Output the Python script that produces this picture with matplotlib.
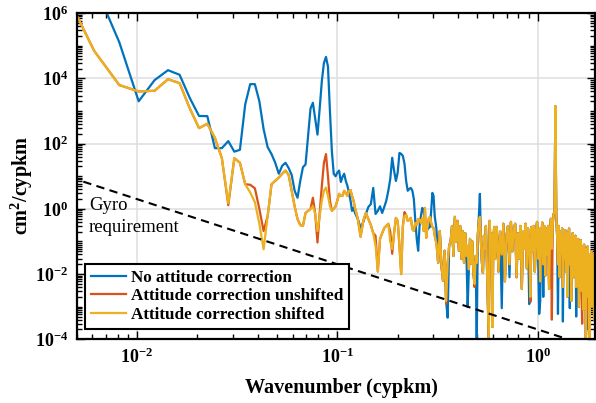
import numpy as np
import matplotlib
matplotlib.use("Agg")
import matplotlib.pyplot as plt
from matplotlib.ticker import FixedLocator, LogLocator, NullFormatter, LogFormatterSciNotation

plt.rcParams.update({
    "font.family": ["Liberation Serif", "DejaVu Serif"],
    "font.weight": "bold",
    "mathtext.fontset": "custom",
    "mathtext.rm": "Liberation Serif:bold",
    "mathtext.it": "Liberation Serif:bold",
    "mathtext.bf": "Liberation Serif:bold",
    "mathtext.default": "rm",
    "axes.unicode_minus": False,
})

# ---- wavenumber grid (cycles per km), spectral resolution 1/490 cypkm ----
DF = 1.0 / 490.0
k_low = np.arange(2, 61)          # every bin
k_mid = np.arange(62, 151, 2)     # every 2nd bin
k_hi1 = np.arange(153, 301, 3)    # every 3rd bin
k_hi2 = np.arange(306, 979, 6)    # every 6th bin
wavenumber = np.concatenate([k_low, k_mid, k_hi1, k_hi2]) * DF

# ---- spectra (cm^2/cypkm) ----
blue_low = [2e7, 8e6, 1.3e5, 2.0e3, 8.9e3, 1.8e4, 1.3e4, 2.5e3, 7.1e2, 7.0e2,
            73, 73, 1.2e2, 57, 65, 1.6e3, 6.7e3, 6.7e3, 2.0e3, 2.8e2,
            78, 48, 26, 12, 21, 26, 18, 11, 3.6, 2.2,
            7.2, 19, 23, 1.7e2, 1.2e3, 1.8e3, 5.8e2, 1.9e2, 1.2e3, 8.4e3,
            3.0e4, 4.6e4, 2.3e4, 1.0e3, 60, 12, 10, 13, 15, 6.7,
            9.6, 12, 7.2, 5.1, 3.1, 1.8, 0.87, 1.07, 0.75]
blue_mid = [0.49, 0.26, 0.40, 0.70, 1.15, 1.4, 4.4, 0.7, 0.87, 1.2,
            0.75, 1.15, 1.8, 3.6, 8.3, 37, 15, 7.2, 13, 52,
            49, 42, 24, 7.2, 3.6, 4.1, 4.4, 3.6, 2.0, 0.43,
            0.12, 0.052, 0.30, 0.61, 1.07, 0.93, 0.30, 0.18, 0.24, 0.26,
            0.28, 0.87, 3.1, 2.5, 0.6]
blue_hi1 = [0.24, 0.022, 0.21, 0.018, 0.0062, 0.052, 0.0015, 4.6e-4, 0.074, 0.10,
            0.30, 0.036, 0.57, 0.10, 0.43, 0.052, 0.30, 0.029, 0.21, 0.022,
            0.18, 0.036, 9.7e-4, 0.014, 0.12, 0.021, 0.10, 0.011, 0.005, 0.036,
            8e-5, 0.15, 0.6, 2.9, 0.10, 0.022, 0.011, 0.15, 0.059, 0.30,
            0.025, 0.0015, 9e-5, 0.43, 0.052, 0.18, 2.4e-4, 0.10, 0.28, 0.029]
blue_hi2 = [0.28, 0.012, 0.2, 9e-4, 0.35, 0.006, 0.15, 0.3, 0.008, 0.4,
            0.05, 0.25, 0.35, 0.008, 0.18, 0.03, 0.3, 0.0035, 0.2, 0.06,
            0.35, 0.015, 0.25, 0.0012, 0.002, 0.28, 0.05, 0.3, 0.012, 0.2,
            0.4, 0.03, 6e-4, 0.0015, 0.15, 0.38, 0.002, 0.3,
            0.009, 0.25, 0.04, 0.3, 0.0035, 0.2, 0.5, 0.06, 0.35, 0.7,
            0.8, 1.4e3, 0.6, 0.15, 6e-4, 0.3, 0.008,
            0.2, 0.05, 0.25, 3.5e-4, 0.15, 0.03, 0.22, 0.012, 0.18, 0.002,
            0.14, 0.25, 9e-4, 0.12, 0.0015, 0.1, 0.18, 0.008, 0.12, 0.03,
            0.15, 5e-4, 0.1, 0.06, 0.12, 0.001, 0.09, 0.02, 0.11, 0.003,
            0.07, 0.05, 0.0008, 0.08, 0.015, 0.06, 8e-5, 0.05, 0.004, 0.07,
            2e-4, 0.04, 9e-5, 0.03, 0.015, 0.05, 0.001, 0.03, 0.006, 0.04,
            0.0004, 0.025, 0.01, 0.035, 0.002, 0.02, 0.0006, 0.015]

yellow_low = [1.1e7, 7e4, 6.3e3, 4.0e3, 4.2e3, 9.5e3, 7.2e3, 1.2e3, 3.0e2, 4.1e2,
              1.5e2, 36, 1.5, 36, 26, 5.7, 3.2, 1.6, 0.35, 0.058,
              0.6, 5.7, 7.2, 9.1, 12, 15, 11, 3.6, 1.2, 0.49,
              0.32, 0.30, 0.75, 0.87, 1.0, 1.2, 0.7, 0.21, 0.6, 1.8,
              3.6, 4.5, 2.5, 1.2, 0.87, 1.0, 1.2, 1.8, 2.9, 2.5,
              2.5, 3.6, 3.1, 2.5, 3.6, 3.8, 2.5, 1.8, 1.07]
yellow_mid = [0.49, 0.14, 0.43, 0.75, 0.49, 0.32, 0.18, 0.074, 0.012, 0.12,
              0.18, 0.26, 0.30, 0.35, 0.10, 0.059, 0.18, 0.53, 0.43, 0.074,
              0.010, 0.30, 0.6, 0.65, 0.43, 0.46, 0.53, 0.24, 0.21, 0.37,
              0.32, 0.49, 0.46, 0.37, 0.53, 0.21, 1.07, 0.13, 0.30, 0.49,
              0.57, 0.37, 0.28, 0.26, 0.15]
yellow_hi1 = [0.085, 0.022, 0.21, 0.018, 0.0062, 0.052, 0.0015, 0.022, 0.074, 0.10,
              0.30, 0.036, 0.57, 0.10, 0.43, 0.052, 0.30, 0.029, 0.21, 0.022,
              0.18, 0.036, 0.074, 0.014, 0.12, 0.021, 0.10, 0.011, 0.005, 0.036,
              0.022, 0.15, 0.43, 0.57, 0.10, 0.022, 0.011, 0.15, 0.059, 0.30,
              0.025, 0.0015, 9e-5, 0.43, 0.052, 0.18, 2.4e-4, 0.10, 0.28, 0.029]
yellow_hi2 = [0.28, 0.012, 0.2, 0.04, 0.35, 0.006, 0.15, 0.3, 0.02, 0.4,
              0.05, 0.25, 0.35, 0.008, 0.18, 0.03, 0.3, 0.0035, 0.2, 0.06,
              0.35, 0.015, 0.25, 0.1, 0.002, 0.28, 0.05, 0.3, 0.012, 0.2,
              0.4, 0.03, 0.25, 0.006, 0.15, 0.38, 0.02, 0.3,
              0.009, 0.25, 0.04, 0.3, 0.0035, 0.2, 0.5, 0.06, 0.35, 0.7,
              0.8, 1.4e3, 0.6, 0.15, 0.02, 0.3, 0.008,
              0.2, 0.05, 0.25, 0.004, 0.15, 0.03, 0.22, 0.012, 0.18, 0.002,
              0.14, 0.25, 0.02, 0.12, 0.0015, 0.1, 0.18, 0.008, 0.12, 0.03,
              0.15, 0.004, 0.1, 0.06, 0.12, 0.001, 0.09, 0.02, 0.11, 0.003,
              0.07, 0.05, 0.0008, 0.08, 0.015, 0.06, 8e-5, 0.05, 0.004, 0.07,
              0.002, 0.04, 9e-5, 0.03, 0.015, 0.05, 0.001, 0.03, 0.006, 0.04,
              0.0004, 0.025, 0.01, 0.035, 0.002, 0.02, 0.0006, 0.015]

orange_low = [1.1e7, 7e4, 6.3e3, 4.0e3, 4.2e3, 9.5e3, 7.2e3, 1.2e3, 3.0e2, 4.1e2,
              1.5e2, 36, 1.3, 36, 26, 5.7, 5.5, 4.3, 1.0, 0.21,
              0.6, 5.7, 7.2, 9.1, 12, 15, 11, 3.6, 1.2, 0.49,
              0.32, 0.30, 0.75, 0.87, 1.0, 2.2, 0.7, 0.093, 0.75, 5.1,
              26, 48, 10, 1.8, 0.87, 1.0, 1.2, 1.8, 2.9, 2.5,
              2.5, 3.6, 3.1, 2.5, 3.6, 3.8, 2.5, 1.8, 1.07]
orange_mid = [0.49, 0.14, 0.43, 0.75, 0.49, 0.32, 0.18, 0.15, 0.012, 0.12,
              0.18, 0.26, 0.30, 0.35, 0.2, 0.042, 0.18, 0.53, 0.43, 0.074,
              0.010, 0.30, 0.8, 0.65, 0.43, 0.46, 0.53, 0.24, 0.21, 0.37,
              0.32, 0.49, 0.46, 0.37, 0.53, 0.21, 1.07, 0.13, 0.30, 0.49,
              0.57, 0.37, 0.28, 0.26, 0.15]
orange_hi1 = [0.085, 0.022, 0.21, 0.018, 0.0062, 0.052, 0.0012, 0.022, 0.074, 0.10,
              0.30, 0.036, 0.57, 0.10, 0.43, 0.052, 0.30, 0.029, 0.21, 0.022,
              0.18, 0.036, 0.074, 0.014, 0.12, 0.021, 0.10, 0.011, 0.004, 0.036,
              0.022, 0.15, 0.43, 0.57, 0.10, 0.022, 0.011, 0.15, 0.059, 0.30,
              0.025, 0.0015, 9e-5, 0.43, 0.052, 0.18, 2.4e-4, 0.10, 0.28, 0.029]
orange_hi2 = [0.28, 0.012, 0.2, 0.04, 0.35, 0.006, 0.15, 0.3, 0.02, 0.4,
              0.05, 0.25, 0.35, 0.008, 0.18, 0.03, 0.3, 0.0035, 0.2, 0.06,
              0.35, 0.015, 0.25, 0.1, 0.0014, 0.28, 0.05, 0.3, 0.012, 0.2,
              0.4, 0.03, 0.25, 0.006, 0.15, 0.38, 0.02, 0.3,
              0.009, 0.25, 0.04, 0.3, 0.0035, 0.2, 0.5, 4e-4, 0.35, 0.7,
              0.8, 1.4e3, 0.6, 0.15, 0.02, 0.3, 0.008,
              0.2, 0.05, 0.25, 0.004, 0.15, 0.03, 0.22, 0.012, 0.18, 0.002,
              0.14, 0.25, 0.02, 0.12, 0.0015, 0.1, 0.18, 0.008, 0.12, 0.03,
              0.15, 0.004, 0.1, 0.06, 0.12, 0.001, 0.09, 0.02, 0.11, 0.003,
              3e-4, 0.05, 0.0008, 0.08, 0.015, 0.06, 8e-5, 0.05, 0.004, 0.07,
              0.002, 1.5e-4, 9e-5, 0.03, 0.015, 0.05, 0.001, 0.03, 0.006, 0.04,
              0.0004, 0.025, 0.01, 0.035, 0.002, 0.02, 0.0006, 0.015]

series = [
    ("No attitude correction", "#0072BD", blue_low + blue_mid + blue_hi1 + blue_hi2),
    ("Attitude correction unshifted", "#D95319", orange_low + orange_mid + orange_hi1 + orange_hi2),
    ("Attitude correction shifted", "#EDB120", yellow_low + yellow_mid + yellow_hi1 + yellow_hi2),
]

# gyro requirement: power law in wavenumber
GYRO_COEF = 2e-4
GYRO_SLOPE = -2
gyro_k = np.array([0.004, 2.0])

y_major = [1e-4, 1e-2, 1e0, 1e2, 1e4, 1e6]

fig = plt.figure(figsize=(5.96, 4.03), dpi=100)
ax = fig.add_axes([76.6 / 596, 1 - 339.3 / 403, (595 - 76.6) / 596, (339.3 - 13.3) / 403])

for label, color, vals in series:
    ax.loglog(wavenumber, np.asarray(vals), color=color, lw=1.6, label=label)

ax.loglog(gyro_k, GYRO_COEF * gyro_k ** GYRO_SLOPE, color="black", lw=1.5,
          linestyle=(0, (4, 2.6)))

ax.set_xlim(0.005, 1.93)
ax.set_ylim(1e-4, 1e6)

ax.yaxis.set_major_locator(FixedLocator(y_major))
ax.yaxis.set_major_formatter(LogFormatterSciNotation())
ax.yaxis.set_minor_locator(LogLocator(base=10, subs=np.arange(1, 10), numticks=100))
ax.yaxis.set_minor_formatter(NullFormatter())
ax.xaxis.set_minor_locator(LogLocator(base=10, subs=np.arange(2, 10), numticks=100))
ax.xaxis.set_minor_formatter(NullFormatter())

ax.grid(True, which="major", color="#dedede", lw=1.1)
ax.set_axisbelow(True)
ax.tick_params(which="both", direction="in", top=True, right=True, width=1.0,
               labelsize=13)
ax.tick_params(which="major", length=6, pad=6)
ax.tick_params(which="minor", length=3.5)
for sp in ax.spines.values():
    sp.set_linewidth(1.6)

ax.set_xlabel("Wavenumber (cypkm)", fontsize=14.5, fontweight="bold")
ax.set_ylabel("cm$^2$/cypkm", fontsize=14.5, fontweight="bold")
ax.xaxis.set_label_coords(0.51, -0.118)
ax.yaxis.set_label_coords(-0.080, 0.473)

ax.text(0.024, 0.438, "Gyro\nrequirement", transform=ax.transAxes,
        fontsize=13.5, fontweight="normal", va="top", ha="left", linespacing=1.4)

leg = ax.legend(loc="lower left", bbox_to_anchor=(0.0162, 0.0316), borderaxespad=0,
                fontsize=12.3, handlelength=2.05, handletextpad=0.3,
                labelspacing=0.15, borderpad=0.35, fancybox=False,
                framealpha=1, edgecolor="black")
leg.get_frame().set_linewidth(1.5)

fig.savefig("out.png", dpi=100)
